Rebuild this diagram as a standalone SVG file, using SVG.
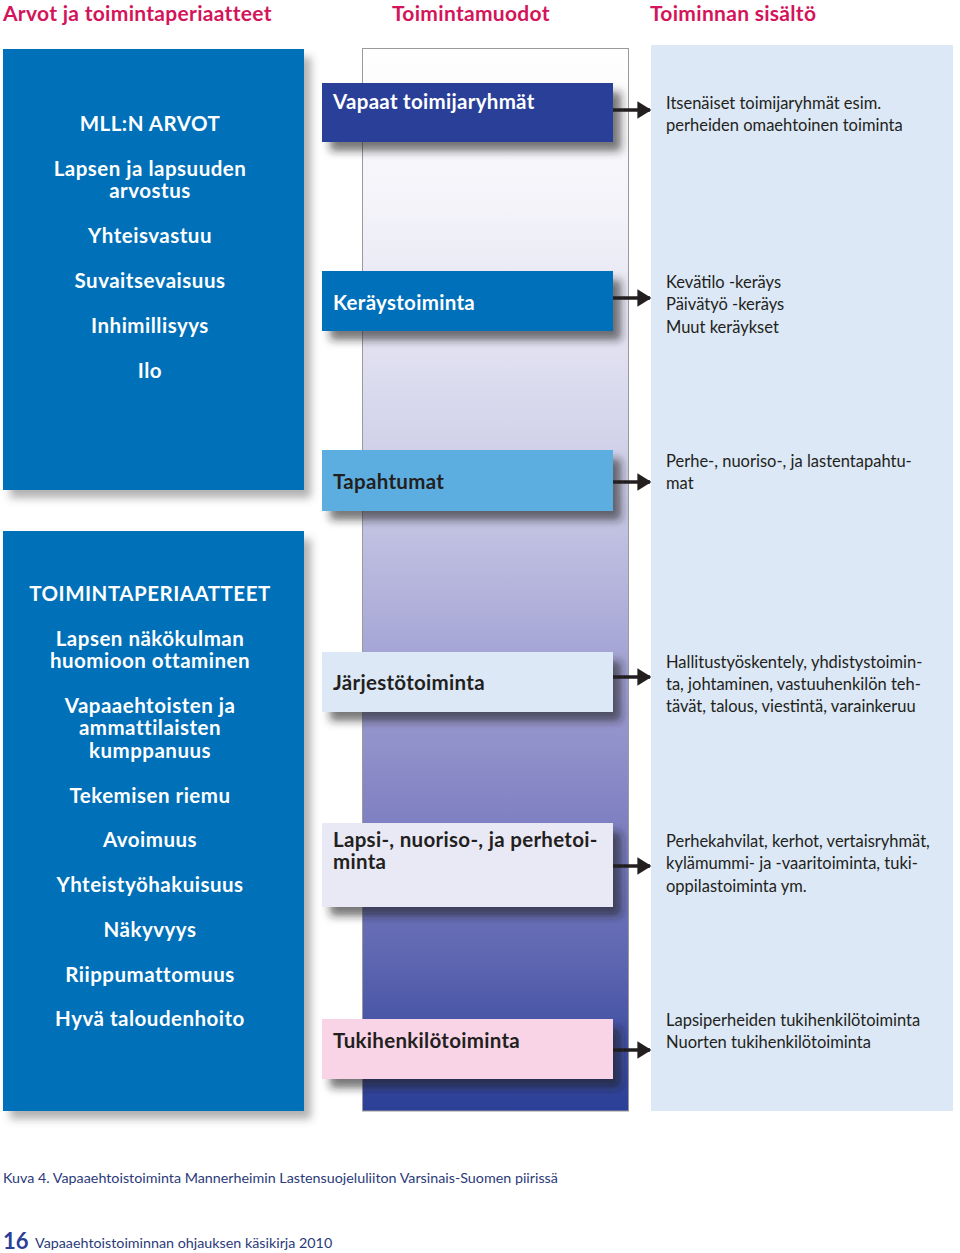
<svg xmlns="http://www.w3.org/2000/svg" width="960" height="1253" viewBox="0 0 960 1253">
<defs>
<linearGradient id="colgrad" x1="0" y1="0" x2="0" y2="1">
<stop offset="0" stop-color="#ffffff"/>
<stop offset="0.15" stop-color="#f3f3f9"/>
<stop offset="0.3" stop-color="#dedef0"/>
<stop offset="0.42" stop-color="#c9c9e5"/>
<stop offset="0.55" stop-color="#aaaad8"/>
<stop offset="0.7" stop-color="#8686c5"/>
<stop offset="0.85" stop-color="#6068b2"/>
<stop offset="1" stop-color="#2b3f98"/>
</linearGradient>
<filter id="shLeft" x="-10%" y="-10%" width="130%" height="130%">
<feDropShadow dx="7" dy="8" stdDeviation="4" flood-color="#555" flood-opacity="0.45"/>
</filter>
<filter id="shBox" x="-10%" y="-20%" width="130%" height="160%">
<feDropShadow dx="8" dy="9" stdDeviation="4" flood-color="#222" flood-opacity="0.6"/>
</filter>
<marker id="ah" markerWidth="4" markerHeight="5" refX="3.6" refY="2.5" orient="auto" markerUnits="strokeWidth">
<path d="M0,0 L4,2.5 L0,5 Z" fill="#231f20"/>
</marker>
</defs>
<style>
.hdr{font-family:Lato,"Open Sans","Liberation Sans",sans-serif;font-weight:bold;font-size:21px;letter-spacing:0.3px;fill:#d4145a}
.lt{font-family:Lato,"Open Sans","Liberation Sans",sans-serif;font-weight:bold;font-size:20.5px;letter-spacing:0.5px;fill:#ffffff;text-anchor:middle}
.mt{font-family:Lato,"Open Sans","Liberation Sans",sans-serif;font-weight:bold;font-size:20.5px;letter-spacing:0.3px}
.rt{font-family:Lato,"Open Sans","Liberation Sans",sans-serif;font-size:16.5px;fill:#231f20}
.cap{font-family:Lato,"Open Sans","Liberation Sans",sans-serif;font-size:14.3px;fill:#2b3a7a}
.conn{stroke:#231f20;stroke-width:3.5;fill:none}
</style>
<rect width="960" height="1253" fill="#ffffff"/>

<g id="headers">
<text class="hdr" x="3" y="21">Arvot ja toimintaperiaatteet</text>
<text class="hdr" x="392" y="21">Toimintamuodot</text>
<text class="hdr" x="650" y="21">Toiminnan sisältö</text>
</g>

<g id="content-column">
<rect x="651" y="45" width="302" height="1066" fill="#dce8f5"/>
</g>

<g id="activity-column">
<rect x="362.5" y="48.5" width="266" height="1062.5" fill="url(#colgrad)" stroke="#9a9a9a" stroke-width="1"/>
</g>

<g id="values">
<rect x="3" y="49" width="301" height="441" fill="#0070b8" filter="url(#shLeft)"/>
<text class="lt" x="150" y="131">MLL:N ARVOT</text>
<text class="lt" x="150" y="176">Lapsen ja lapsuuden</text>
<text class="lt" x="150" y="198">arvostus</text>
<text class="lt" x="150" y="243">Yhteisvastuu</text>
<text class="lt" x="150" y="288">Suvaitsevaisuus</text>
<text class="lt" x="150" y="333">Inhimillisyys</text>
<text class="lt" x="150" y="378">Ilo</text>
</g>

<g id="principles">
<rect x="3" y="531" width="301" height="580" fill="#0070b8" filter="url(#shLeft)"/>
<text class="lt" x="150" y="601">TOIMINTAPERIAATTEET</text>
<text class="lt" x="150" y="646">Lapsen näkökulman</text>
<text class="lt" x="150" y="668">huomioon ottaminen</text>
<text class="lt" x="150" y="713">Vapaaehtoisten ja</text>
<text class="lt" x="150" y="735">ammattilaisten</text>
<text class="lt" x="150" y="758">kumppanuus</text>
<text class="lt" x="150" y="803">Tekemisen riemu</text>
<text class="lt" x="150" y="847">Avoimuus</text>
<text class="lt" x="150" y="892">Yhteistyöhakuisuus</text>
<text class="lt" x="150" y="937">Näkyvyys</text>
<text class="lt" x="150" y="982">Riippumattomuus</text>
<text class="lt" x="150" y="1026">Hyvä taloudenhoito</text>
</g>

<g id="connectors">
<line class="conn" x1="613" y1="110" x2="650" y2="110" marker-end="url(#ah)"/>
<line class="conn" x1="613" y1="298" x2="650" y2="298" marker-end="url(#ah)"/>
<line class="conn" x1="613" y1="482" x2="650" y2="482" marker-end="url(#ah)"/>
<line class="conn" x1="613" y1="677" x2="650" y2="677" marker-end="url(#ah)"/>
<line class="conn" x1="613" y1="866" x2="650" y2="866" marker-end="url(#ah)"/>
<line class="conn" x1="613" y1="1050" x2="650" y2="1050" marker-end="url(#ah)"/>
</g>

<g id="vapaat">
<rect x="322" y="83" width="291" height="59" fill="#2b3f98" filter="url(#shBox)"/>
<text class="mt" x="333" y="109" fill="#ffffff">Vapaat toimijaryhmät</text>
</g>
<g id="keraystoiminta">
<rect x="322" y="271" width="291" height="60" fill="#0070ba" filter="url(#shBox)"/>
<text class="mt" x="333" y="310" fill="#ffffff">Keräystoiminta</text>
</g>
<g id="tapahtumat">
<rect x="322" y="450" width="291" height="61" fill="#5daee0" filter="url(#shBox)"/>
<text class="mt" x="333" y="489" fill="#231f20">Tapahtumat</text>
</g>
<g id="jarjestotoiminta">
<rect x="322" y="652" width="291" height="60" fill="#dce8f5" filter="url(#shBox)"/>
<text class="mt" x="333" y="690" fill="#231f20">Järjestötoiminta</text>
</g>
<g id="lapsi">
<rect x="322" y="823" width="291" height="84" fill="#e9e9f5" filter="url(#shBox)"/>
<text class="mt" x="333" y="847" fill="#231f20">Lapsi-, nuoriso-, ja perhetoi-</text>
<text class="mt" x="333" y="869" fill="#231f20">minta</text>
</g>
<g id="tukihenkilo">
<rect x="322" y="1019" width="291" height="60" fill="#f8d4e6" filter="url(#shBox)"/>
<text class="mt" x="333" y="1048" fill="#231f20">Tukihenkilötoiminta</text>
</g>

<g id="content-texts">
<text class="rt" x="666" y="109">Itsenäiset toimijaryhmät esim.</text>
<text class="rt" x="666" y="131">perheiden omaehtoinen toiminta</text>
<text class="rt" x="666" y="288">Kevätilo -keräys</text>
<text class="rt" x="666" y="310">Päivätyö -keräys</text>
<text class="rt" x="666" y="333">Muut keräykset</text>
<text class="rt" x="666" y="467">Perhe-, nuoriso-, ja lastentapahtu-</text>
<text class="rt" x="666" y="489">mat</text>
<text class="rt" x="666" y="668">Hallitustyöskentely, yhdistystoimin-</text>
<text class="rt" x="666" y="690">ta, johtaminen, vastuuhenkilön teh-</text>
<text class="rt" x="666" y="712">tävät, talous, viestintä, varainkeruu</text>
<text class="rt" x="666" y="847">Perhekahvilat, kerhot, vertaisryhmät,</text>
<text class="rt" x="666" y="869">kylämummi- ja -vaaritoiminta, tuki-</text>
<text class="rt" x="666" y="892">oppilastoiminta ym.</text>
<text class="rt" x="666" y="1026">Lapsiperheiden tukihenkilötoiminta</text>
<text class="rt" x="666" y="1048">Nuorten tukihenkilötoiminta</text>
</g>

<g id="caption">
<text class="cap" x="3" y="1183">Kuva 4. Vapaaehtoistoiminta Mannerheimin Lastensuojeluliiton Varsinais-Suomen piirissä</text>
<text x="3" y="1249" font-family="Lato,'Open Sans','Liberation Sans',sans-serif" font-weight="bold" font-size="22" fill="#2b3f98">16</text>
<text class="cap" x="35" y="1248">Vapaaehtoistoiminnan ohjauksen käsikirja 2010</text>
</g>
</svg>
